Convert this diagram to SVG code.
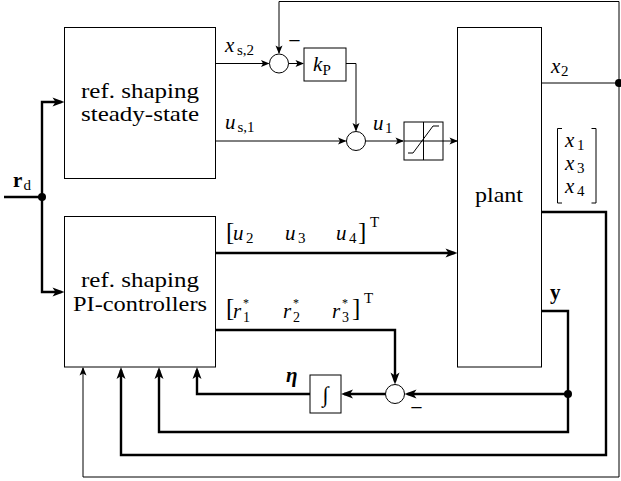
<svg xmlns="http://www.w3.org/2000/svg" width="621" height="481" viewBox="0 0 621 481">
<style>
.box{fill:#fff;stroke:#000;stroke-width:1}
.thin{fill:none;stroke:#000;stroke-width:1}
.thick{fill:none;stroke:#000;stroke-width:2.4}
.i{font-style:italic}
.b{font-weight:bold}
.s{font-size:15px}
.m{text-anchor:middle}
</style>
<defs>
<marker id="ah" markerUnits="userSpaceOnUse" viewBox="-1 -6 15 12" refX="7.5" refY="0" markerWidth="15" markerHeight="12" orient="auto"><path d="M0,-3.5 L8.5,0 L0,3.5 L2,0 z" fill="#000"/></marker>
<marker id="AH" markerUnits="userSpaceOnUse" viewBox="-1 -6 15 12" refX="9" refY="0" markerWidth="15" markerHeight="12" orient="auto"><path d="M0,-4.5 L12,0 L0,4.5 L3,0 z" fill="#000"/></marker>
</defs>
<rect width="621" height="481" fill="#fff"/>
<g font-family="Liberation Serif, serif" font-size="21" fill="#000">
<g id="steady">
<rect class="box" x="64.5" y="27.5" width="151" height="151"/>
<text class="m" x="140" y="98" textLength="118" lengthAdjust="spacingAndGlyphs">ref. shaping</text>
<text class="m" x="140" y="121" textLength="118" lengthAdjust="spacingAndGlyphs">steady-state</text>
</g>
<g id="pi">
<rect class="box" x="64.5" y="216.5" width="151" height="150.5"/>
<text class="m" x="140" y="287" textLength="118" lengthAdjust="spacingAndGlyphs">ref. shaping</text>
<text class="m" x="140" y="311" textLength="134" lengthAdjust="spacingAndGlyphs">PI-controllers</text>
</g>
<g id="plant">
<rect class="box" x="457.5" y="27.5" width="84" height="339.5"/>
<text class="m" x="499" y="202" textLength="48" lengthAdjust="spacingAndGlyphs">plant</text>
</g>
<g id="kp">
<rect class="box" x="304" y="48" width="42" height="33"/>
<text class="i" x="313" y="71">k</text>
<text class="s" x="322.5" y="75">P</text>
</g>
<g id="sum1">
<circle class="box" cx="279" cy="63.5" r="9.5"/>
<text class="m" x="294.5" y="48" font-size="22">−</text>
</g>
<g id="sum2">
<circle class="box" cx="356" cy="141" r="9.5"/>
</g>
<g id="sat">
<rect class="box" x="404" y="122" width="39" height="38"/>
<path class="thin" d="M404,141 H443 M423.5,122 V160"/>
<polyline class="thin" points="408,153 413,153 433,126 439,126"/>
</g>
<g id="sum3">
<circle class="box" cx="395" cy="394" r="9.5"/>
<text class="m" x="416.5" y="415" font-size="22">−</text>
</g>
<g id="integrator">
<rect class="box" x="310" y="375" width="31" height="38"/>
<text class="m" x="325.5" y="402" font-size="22">∫</text>
</g>

<g id="connectors">
<path class="thin" d="M216,63.5 H268.5" marker-end="url(#ah)"/>
<path class="thin" d="M288.5,63.5 H303" marker-end="url(#ah)"/>
<path class="thin" d="M346,63.5 H356 V130.5" marker-end="url(#ah)"/>
<path class="thin" d="M216,141 H345.5" marker-end="url(#ah)"/>
<path class="thin" d="M365.5,141 H403" marker-end="url(#ah)"/>
<path class="thin" d="M443,141 H457" marker-end="url(#ah)"/>
<path class="thin" d="M619,83 V1.5 H279 V53" marker-end="url(#ah)"/>
<path class="thin" d="M619,83 V477 H83 V368" marker-end="url(#ah)"/>
<path class="thin" d="M541.5,83 H619"/>
<circle cx="619" cy="83" r="4" fill="#000"/>

<path class="thick" d="M4,197 H42"/>
<path class="thick" d="M42,197 V102 H61.5" marker-end="url(#AH)"/>
<path class="thick" d="M42,197 V292 H61.5" marker-end="url(#AH)"/>
<circle cx="42" cy="197" r="4" fill="#000"/>
<path class="thick" d="M216,253 H454.5" marker-end="url(#AH)"/>
<path class="thick" d="M216,330 H395 V381.5" marker-end="url(#AH)"/>
<path class="thick" d="M568,394 H407.5" marker-end="url(#AH)"/>
<path class="thick" d="M385.5,394 H344" marker-end="url(#AH)"/>
<path class="thick" d="M310,394 H197 V370" marker-end="url(#AH)"/>
<path class="thick" d="M541.5,311 H568 V432 H159 V370" marker-end="url(#AH)"/>
<path class="thick" d="M541.5,212 H606 V455 H121 V370" marker-end="url(#AH)"/>
<circle cx="568" cy="394" r="4" fill="#000"/>

<text class="b" x="13" y="187">r</text>
<text class="s" x="23.5" y="190">d</text>
<text class="i" x="225" y="52">x</text>
<text class="s" x="237" y="55">s,2</text>
<text class="i" x="225" y="129">u</text>
<text class="s" x="237.5" y="132">s,1</text>
<text class="i" x="373" y="130">u</text>
<text class="s" x="385" y="133">1</text>
<text class="i" x="551" y="73">x</text>
<text class="s" x="561" y="76">2</text>

<polyline class="thin" points="562,128.5 557.5,128.5 557.5,203 562,203"/>
<polyline class="thin" points="591.5,128.5 596,128.5 596,203 591.5,203"/>
<text class="i" x="565" y="147">x</text>
<text class="s" x="577" y="149.5">1</text>
<text class="i" x="565" y="170">x</text>
<text class="s" x="577" y="172.5">3</text>
<text class="i" x="565" y="193">x</text>
<text class="s" x="577" y="195.5">4</text>

<text x="226" y="240" font-size="25">[</text>
<text class="i" x="233" y="240">u</text>
<text class="s" x="246" y="243">2</text>
<text class="i" x="285" y="240">u</text>
<text class="s" x="298" y="243">3</text>
<text class="i" x="336" y="240">u</text>
<text class="s" x="349" y="243">4</text>
<text x="358" y="240" font-size="25">]</text>
<text class="s" x="370" y="227">T</text>

<text x="226" y="316" font-size="25">[</text>
<text class="i" x="233" y="318">r</text>
<text x="243" y="307" font-size="12">*</text>
<text x="243" y="322" font-size="14">1</text>
<text class="i" x="283" y="318">r</text>
<text x="293" y="307" font-size="12">*</text>
<text x="293" y="322" font-size="14">2</text>
<text class="i" x="332" y="318">r</text>
<text x="342" y="307" font-size="12">*</text>
<text x="342" y="322" font-size="14">3</text>
<text x="352" y="316" font-size="25">]</text>
<text class="s" x="364" y="303">T</text>

<text class="b" x="550" y="299">y</text>
<text class="b i" x="286" y="382">η</text>
</g>
</g>
</svg>
